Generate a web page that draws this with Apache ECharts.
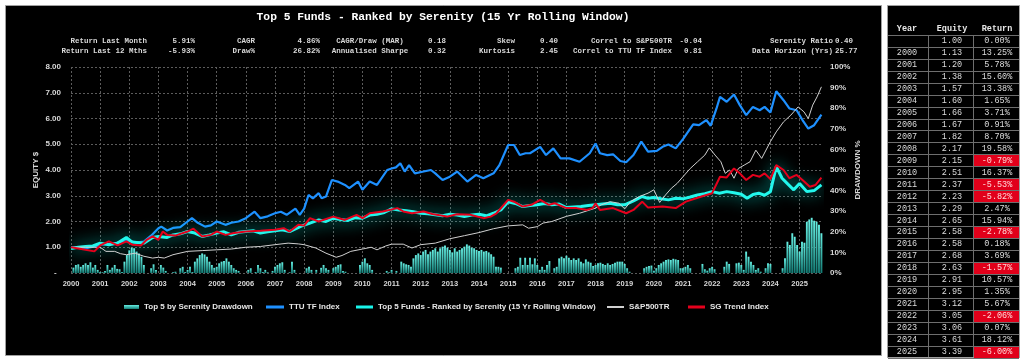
<!DOCTYPE html>
<html><head><meta charset="utf-8">
<script src="https://cdn.jsdelivr.net/npm/echarts@6/dist/echarts.min.js"></script>
<style>html,body{margin:0;padding:0;background:#fff;}#c{width:1024px;height:361px;}</style>
</head><body><div id="c"></div><script>
// ---------------- DATA ----------------
const chartTitle = 'Top 5 Funds - Ranked by Serenity (15 Yr Rolling Window)';
const xYears = [2000,2001,2002,2003,2004,2005,2006,2007,2008,2009,2010,2011,2012,2013,2014,2015,2016,2017,2018,2019,2020,2021,2022,2023,2024,2025];
const xStart = 2000, xEnd = 2025.77;

const statsLabels1 = ['Return Last Month','CAGR','CAGR/Draw (MAR)','Skew','Correl to S&P500TR','Serenity Ratio'];
const statsValues1 = ['5.91%','4.86%','0.18','0.40','-0.04','0.40'];
const statsLabels2 = ['Return Last 12 Mths','Draw%','Annualised Sharpe','Kurtosis','Correl to TTU TF Index','Data Horizon (Yrs)'];
const statsValues2 = ['-5.93%','26.82%','0.32','2.45','0.81','25.77'];

// monthly drawdown %, starting Jan 2000
const drawdownMonthly = [
 0,2.6,3.9,4.2,3.0,3.9,4.7,3.9,5.2,2.6,3.9,1.5,        // 2000
 0.5,0.3,1.0,3.9,1.5,2.6,3.9,2.0,1.8,0.5,5.5,8.7,      // 2001
 11.0,12.3,12.0,10.4,9.5,7.9,3.9,0,0,2.3,4.2,1.5,      // 2002
 0,3.9,2.6,1.0,0,0,0.4,0.6,0,2.3,3.0,0.5,              // 2003
 1.5,3.0,0.5,5.5,7.1,8.7,9.5,9.0,7.9,5.5,3.9,2.5,      // 2004
 3.0,4.7,5.5,5.8,7.1,5.5,3.9,2.3,1.5,1.0,0,0,          // 2005
 0,1.5,2.3,0,0.5,3.9,2.3,0.5,1.5,0.3,0,1.0,            // 2006
 3.0,3.9,4.7,5.2,1.5,0,0.3,5.5,1.5,0,0,0,              // 2007
 0,2.3,3.0,1.5,0,1.5,0,2.5,3.9,2.3,1.5,0,              // 2008
 2.3,3.0,3.9,4.2,1.0,0.6,0,0,0,0,0,3.9,                // 2009
 5.5,7.1,4.7,3.9,1.5,0,0,0,0,0,1.0,0.3,                // 2010
 1.5,0,1.0,0,5.5,4.7,4.2,3.9,3.0,7.1,8.7,9.5,          // 2011
 8.7,10.4,11.2,9.1,10.4,11.2,12.0,10.4,12.0,12.8,13.3,12.3, // 2012
 11.2,10.0,12.0,10.4,11.2,12.0,12.8,13.9,13.3,12.3,12.0,11.2, // 2013
 10.7,11.2,10.4,10.7,10.0,9.1,7.9,3.0,3.0,2.6,0,0,     // 2014
 0,0,0,2.3,3.0,7.4,3.9,7.4,3.9,7.4,4.2,7.1,            // 2015
 3.9,1.5,3.0,1.5,3.9,5.8,0,2.3,3.0,7.1,7.9,7.1,        // 2016
 8.4,7.4,6.3,7.1,6.3,7.1,5.5,4.7,6.6,5.5,5.0,3.4,      // 2017
 3.9,4.7,5.0,4.4,3.9,4.7,3.9,4.4,5.0,5.5,5.5,5.5,      // 2018
 4.4,2.3,0.6,0,0,0,0,0,2.3,3.0,3.4,3.6,                // 2019
 1.1,2.3,3.9,4.7,5.5,6.3,6.6,6.3,6.9,6.6,6.3,2.3,      // 2020
 2.3,3.0,3.9,2.3,0,0,0,0,4.4,1.8,1.1,2.3,              // 2021
 3.0,1.8,0,0,0,3.0,5.5,4.4,0,0,4.7,5.0,                // 2022
 3.9,1.5,10.4,7.9,5.5,3.9,1.5,2.3,0.6,0,2.3,4.7,       // 2023
 4.4,0,0,0,0,2.3,7.1,15.2,13.6,19.3,17.6,13.6,         // 2024
 10.4,15.2,14.7,24.9,26.0,26.8,25.4,24.9,23.4,19.3     // 2025
];

const ttuTF = [[2000,1.00],[2000.25,0.97],[2000.5,0.95],[2000.75,1.02],[2001,1.10],[2001.25,1.12],[2001.5,1.15],[2001.75,1.22],[2002,1.25],[2002.25,1.18],[2002.5,1.22],[2002.75,1.45],[2003,1.74],[2003.1,1.80],[2003.3,1.65],[2003.5,1.75],[2003.75,1.78],[2004,2.00],[2004.15,2.13],[2004.35,1.95],[2004.6,1.80],[2004.8,1.85],[2005,2.00],[2005.3,1.87],[2005.5,1.95],[2005.75,2.00],[2006,2.13],[2006.3,2.38],[2006.5,2.13],[2006.75,2.20],[2007,2.32],[2007.2,2.38],[2007.4,2.26],[2007.7,2.50],[2007.85,2.26],[2008,2.50],[2008.15,3.03],[2008.3,2.90],[2008.5,3.10],[2008.6,2.90],[2008.75,2.97],[2008.95,3.61],[2009.15,3.55],[2009.4,3.42],[2009.55,3.30],[2009.85,3.55],[2010,3.23],[2010.25,3.55],[2010.5,3.42],[2010.85,4.00],[2011,4.06],[2011.15,4.10],[2011.3,4.26],[2011.45,3.94],[2011.6,4.19],[2011.8,3.87],[2012.1,3.94],[2012.35,4.00],[2012.5,3.87],[2012.75,3.61],[2013,3.74],[2013.25,3.94],[2013.6,3.55],[2013.9,3.81],[2014.15,3.68],[2014.5,3.87],[2014.7,4.19],[2015,4.97],[2015.2,4.97],[2015.4,4.58],[2015.6,4.65],[2015.75,4.65],[2016.1,4.90],[2016.3,4.58],[2016.55,4.84],[2016.8,4.45],[2017.1,4.45],[2017.45,4.32],[2017.8,4.65],[2018,5.03],[2018.15,4.65],[2018.4,4.58],[2018.6,4.61],[2018.85,4.35],[2019.05,4.30],[2019.3,4.58],[2019.57,5.10],[2019.8,4.71],[2020.1,4.74],[2020.3,4.90],[2020.5,4.99],[2020.75,4.84],[2021,5.20],[2021.35,5.77],[2021.55,5.74],[2021.8,5.94],[2021.95,5.72],[2022.15,6.39],[2022.27,6.84],[2022.5,6.65],[2022.75,6.93],[2022.95,6.52],[2023.17,6.13],[2023.4,6.45],[2023.63,6.32],[2023.8,6.45],[2024,6.23],[2024.2,7.06],[2024.45,6.71],[2024.65,6.39],[2024.9,6.32],[2025.1,5.94],[2025.3,5.61],[2025.5,5.74],[2025.75,6.15]];

const top5Serenity = [[2000,0.95],[2000.25,1.00],[2000.5,1.03],[2000.75,1.05],[2001,1.16],[2001.3,1.10],[2001.6,1.16],[2001.9,1.38],[2002.1,1.20],[2002.5,1.16],[2002.8,1.38],[2003,1.42],[2003.3,1.38],[2003.5,1.48],[2003.75,1.52],[2004,1.61],[2004.25,1.55],[2004.5,1.42],[2004.75,1.48],[2005,1.55],[2005.25,1.60],[2005.5,1.48],[2005.75,1.58],[2006,1.61],[2006.25,1.64],[2006.5,1.55],[2006.75,1.60],[2007,1.64],[2007.25,1.68],[2007.5,1.61],[2007.9,1.82],[2008.2,1.94],[2008.5,2.06],[2008.75,2.00],[2009,2.13],[2009.25,2.08],[2009.5,2.04],[2009.75,2.15],[2010,2.13],[2010.25,2.25],[2010.5,2.28],[2010.75,2.35],[2011,2.49],[2011.25,2.45],[2011.5,2.42],[2011.75,2.38],[2012,2.32],[2012.25,2.30],[2012.5,2.26],[2012.75,2.22],[2013,2.28],[2013.25,2.25],[2013.5,2.19],[2013.75,2.25],[2014,2.28],[2014.25,2.22],[2014.5,2.32],[2014.75,2.45],[2015,2.77],[2015.25,2.70],[2015.5,2.58],[2015.75,2.62],[2016,2.65],[2016.25,2.70],[2016.5,2.65],[2016.75,2.68],[2017,2.54],[2017.25,2.56],[2017.5,2.58],[2017.75,2.62],[2018,2.65],[2018.25,2.68],[2018.5,2.71],[2018.75,2.65],[2019,2.65],[2019.3,2.80],[2019.6,2.97],[2019.8,2.90],[2020,2.93],[2020.25,2.88],[2020.5,2.84],[2020.75,2.90],[2021,2.88],[2021.25,2.95],[2021.5,3.03],[2021.75,3.08],[2022,3.16],[2022.25,3.10],[2022.5,3.16],[2022.75,3.12],[2023,3.06],[2023.2,2.90],[2023.4,3.05],[2023.6,3.10],[2023.8,3.02],[2024,3.16],[2024.2,4.13],[2024.4,3.68],[2024.6,3.45],[2024.8,3.23],[2025,3.48],[2025.25,3.16],[2025.5,3.20],[2025.75,3.42]];

const sp500TR = [[2000,1.00],[2000.5,1.00],[2001,1.00],[2001.2,0.84],[2001.5,0.84],[2001.7,0.75],[2001.9,0.71],[2002.2,0.77],[2002.5,0.65],[2002.8,0.58],[2003,0.61],[2003.2,0.58],[2003.5,0.71],[2004,0.84],[2004.5,0.87],[2005,0.90],[2005.5,0.93],[2006,1.00],[2006.5,1.03],[2007,1.10],[2007.45,1.16],[2007.8,1.13],[2008,1.10],[2008.4,0.97],[2008.75,0.77],[2009.1,0.61],[2009.3,0.68],[2009.6,0.84],[2010,0.93],[2010.3,1.00],[2010.5,0.90],[2010.8,1.05],[2011,1.12],[2011.4,1.12],[2011.7,0.97],[2012,1.10],[2012.5,1.16],[2013,1.33],[2013.5,1.45],[2014,1.57],[2014.5,1.72],[2015,1.83],[2015.5,1.87],[2015.7,1.74],[2016,1.80],[2016.2,1.94],[2016.5,2.00],[2017,2.20],[2017.45,2.32],[2018,2.52],[2018.2,2.65],[2018.5,2.77],[2018.8,2.71],[2019,2.49],[2019.2,2.77],[2019.5,2.97],[2019.8,3.10],[2020,3.23],[2020.2,2.74],[2020.4,3.03],[2020.6,3.29],[2020.8,3.48],[2021,3.74],[2021.25,4.06],[2021.5,4.32],[2021.75,4.58],[2021.9,4.86],[2022.1,4.58],[2022.3,4.32],[2022.45,3.87],[2022.6,4.00],[2022.75,3.68],[2022.9,4.06],[2023.1,4.19],[2023.3,4.32],[2023.5,4.77],[2023.7,4.45],[2024,5.10],[2024.2,5.48],[2024.45,5.87],[2024.7,6.13],[2024.95,6.45],[2025.15,6.26],[2025.3,6.00],[2025.45,6.52],[2025.6,6.84],[2025.75,7.23]];

const sgTrend = [[2000,1.00],[2000.5,0.90],[2000.8,0.84],[2001,1.07],[2001.3,1.23],[2001.6,1.07],[2001.9,1.23],[2002.1,1.10],[2002.4,1.07],[2002.6,1.29],[2002.8,1.42],[2003,1.29],[2003.15,1.61],[2003.3,1.48],[2003.6,1.46],[2004,1.61],[2004.2,1.72],[2004.5,1.42],[2004.8,1.48],[2005,1.61],[2005.3,1.48],[2005.6,1.55],[2006,1.61],[2006.5,1.64],[2007,1.68],[2007.3,1.74],[2007.5,1.61],[2007.8,1.87],[2008,1.84],[2008.2,2.13],[2008.5,2.00],[2009,2.19],[2009.4,2.06],[2009.8,2.26],[2010,2.13],[2010.25,2.32],[2010.7,2.39],[2011.2,2.52],[2011.4,2.39],[2011.7,2.32],[2012.1,2.39],[2012.4,2.29],[2012.9,2.19],[2013.25,2.28],[2013.7,2.26],[2014.15,2.13],[2014.4,2.19],[2014.6,2.32],[2015,2.84],[2015.2,2.77],[2015.5,2.58],[2015.8,2.65],[2016.1,2.84],[2016.4,2.65],[2016.6,2.71],[2017,2.52],[2017.35,2.52],[2017.7,2.45],[2017.9,2.52],[2018,2.71],[2018.15,2.45],[2018.6,2.52],[2019.05,2.32],[2019.3,2.45],[2019.6,2.77],[2019.8,2.54],[2020.3,2.58],[2020.75,2.52],[2021.1,2.77],[2021.45,2.90],[2021.8,3.03],[2022,3.10],[2022.27,3.74],[2022.5,3.71],[2022.75,4.06],[2022.95,3.87],[2023.17,3.61],[2023.4,3.81],[2023.63,3.74],[2023.8,3.87],[2024,3.65],[2024.2,4.19],[2024.45,4.00],[2024.65,3.68],[2024.9,3.81],[2025.1,3.61],[2025.35,3.35],[2025.55,3.42],[2025.75,3.70]];

const tableYears  = ['', '2000','2001','2002','2003','2004','2005','2006','2007','2008','2009','2010','2011','2012','2013','2014','2015','2016','2017','2018','2019','2020','2021','2022','2023','2024','2025'];
const tableEquity = ['1.00','1.13','1.20','1.38','1.57','1.60','1.66','1.67','1.82','2.17','2.15','2.51','2.37','2.23','2.29','2.65','2.58','2.58','2.68','2.63','2.91','2.95','3.12','3.05','3.06','3.61','3.39'];
const tableReturn = ['0.00%','13.25%','5.78%','15.60%','13.38%','1.65%','3.71%','0.91%','8.70%','19.58%','-0.79%','16.37%','-5.53%','-5.82%','2.47%','15.94%','-2.78%','0.18%','3.69%','-1.57%','10.57%','1.35%','5.67%','-2.06%','0.07%','18.12%','-6.00%'];

// ---------------- CHART ----------------
const chart = echarts.init(document.getElementById('c'), null, {renderer:'canvas'});
const mono = '"Liberation Mono", "Courier New", monospace';
const sans = '"Liberation Sans", Arial, sans-serif';
const g = [];
// panels
g.push({type:'rect', z:-10, shape:{x:5.5,y:5.5,width:876,height:350}, style:{fill:'#000', stroke:'#a0a0a0', lineWidth:1}});
g.push({type:'rect', z:-10, shape:{x:887.5,y:5.5,width:132,height:352}, style:{fill:'#000', stroke:'#a0a0a0', lineWidth:1}});
// title
g.push({type:'text', z:10, x:443, y:17, style:{text:chartTitle, fill:'#ffffff', font:'bold 11.3px '+mono, align:'center', verticalAlign:'middle'}});
// stats
const labAnch = [[147,'right'],[255,'right'],[370,'center'],[515,'right'],[672,'right'],[833,'right']];
const valAnch = [[195,'right'],[320,'right'],[428,'left'],[540,'left'],[702,'right'],[835,'left']];
[[statsLabels1,statsValues1,41],[statsLabels2,statsValues2,51]].forEach(([labs,vals,yy])=>{
  labs.forEach((t,i)=>g.push({type:'text', z:10, x:labAnch[i][0], y:yy, style:{text:t, fill:'#d8d8d8', font:'bold 7.5px '+mono, align:labAnch[i][1], verticalAlign:'middle'}}));
  vals.forEach((t,i)=>g.push({type:'text', z:10, x:valAnch[i][0], y:yy, style:{text:t, fill:'#d8d8d8', font:'bold 7.5px '+mono, align:valAnch[i][1], verticalAlign:'middle'}}));
});
// table
const rowY0 = 40.7, rowH = 11.97;
const colX = [907, 952, 997];
['Year','Equity','Return'].forEach((t,i)=>g.push({type:'text', z:10, x:colX[i], y:29, style:{text:t, fill:'#e8e8e8', font:'bold 8.5px '+mono, align:'center', verticalAlign:'middle'}}));
for (let k=0;k<=tableYears.length;k++){
  const yy = Math.round(rowY0 - rowH/2 + k*rowH) + 0.5;
  g.push({type:'line', z:5, shape:{x1:888, y1:yy, x2:1019, y2:yy}, style:{stroke:'#6e6e6e', lineWidth:1}});
}
[928.5, 973.5].forEach(xx=>g.push({type:'line', z:5, shape:{x1:xx, y1:Math.round(rowY0-rowH/2)+0.5, x2:xx, y2:357}, style:{stroke:'#6e6e6e', lineWidth:1}}));
tableYears.forEach((yr,k)=>{
  const yy = rowY0 + k*rowH;
  if (tableReturn[k].startsWith('-')) {
    g.push({type:'rect', z:6, shape:{x:974, y:Math.round(yy-rowH/2)+1, width:45, height:Math.round(rowH)-1}, style:{fill:'#e1001a'}});
  }
  [yr, tableEquity[k], tableReturn[k]].forEach((t,i)=>g.push({type:'text', z:10, x:colX[i], y:yy, style:{text:t, fill: (i===2 && t.startsWith('-'))?'#ffd9d9':'#dcdcdc', font:'8.5px '+mono, align:'center', verticalAlign:'middle'}}));
});

const gridColor = '#5c5c5c';
const labelColor = '#d8d8d8';
const legendText = {color:'#e6e6e6', fontWeight:'bold', fontSize:8, fontFamily:sans};
const barGrad = new echarts.graphic.LinearGradient(0,0,0,1,[{offset:0,color:'#66efe3'},{offset:1,color:'#137a73'}]);
const lg = (name, left, w, h) => ({data:[name], left:left, top:303, padding:0, icon:'rect', itemWidth:w, itemHeight:h, textStyle:legendText, selectedMode:false});

const option = {
  backgroundColor:'#ffffff',
  animation:false,
  textStyle:{fontFamily:sans},
  graphic: g,
  grid:{left:71, right:202, top:67, bottom:88},
  legend:[
    lg('Top 5 by Serenity Drawdown', 124, 15, 4),
    lg('TTU TF Index', 266, 18, 3),
    lg('Top 5 Funds - Ranked by Serenity (15 Yr Rolling Window)', 356, 17, 3),
    lg('S&P500TR', 607, 17, 2),
    lg('SG Trend Index', 688, 17, 3)
  ],
  xAxis:{type:'value', min:xStart, max:xEnd, interval:1,
    axisLine:{show:false}, axisTick:{show:false, customValues:xYears},
    splitLine:{show:true, lineStyle:{color:gridColor, type:[2,2], width:1}},
    axisLabel:{color:labelColor, fontWeight:'bold', fontSize:7.5, margin:7, customValues:xYears, hideOverlap:false,
      formatter:v=> String(v)}
  },
  yAxis:[
    {type:'value', min:0, max:8, interval:1, name:'EQUITY $', nameLocation:'middle', nameGap:31, nameRotate:90, nameMoveOverlap:false,
     nameTextStyle:{color:labelColor, fontWeight:'bold', fontSize:8},
     axisLine:{show:false}, axisTick:{show:false},
     splitLine:{show:true, lineStyle:{color:gridColor, type:[2,2], width:1}},
     axisLabel:{color:labelColor, fontWeight:'bold', fontSize:8, margin:10, formatter:v=> v===0 ? '-  ' : v.toFixed(2)}},
    {type:'value', min:0, max:100, interval:10, position:'right', name:'DRAWDOWN %', nameLocation:'middle', nameGap:32, nameRotate:90, nameMoveOverlap:false,
     nameTextStyle:{color:labelColor, fontWeight:'bold', fontSize:8},
     axisLine:{show:false}, axisTick:{show:false}, splitLine:{show:false},
     axisLabel:{color:labelColor, fontWeight:'bold', fontSize:8, margin:8, formatter:'{value}%'}}
  ],
  series:[
    {name:'Top 5 by Serenity Drawdown', type:'bar', yAxisIndex:1, barWidth:1.9,
     data: drawdownMonthly.map((v,i)=>[xStart + i/12, v]),
     itemStyle:{color:barGrad}},
    {name:'TTU TF Index', type:'line', data:ttuTF, showSymbol:false, symbol:'none', color:'#1e90ff',
     lineStyle:{width:2.2, color:'#1e90ff'}},
    {name:'Top 5 Funds - Ranked by Serenity (15 Yr Rolling Window)', type:'line', data:top5Serenity, showSymbol:false, symbol:'none', color:'#19f5ea',
     lineStyle:{width:3, color:'#22f7ec', shadowColor:'rgba(0,240,225,1)', shadowBlur:16}},
    {name:'S&P500TR', type:'line', data:sp500TR, showSymbol:false, symbol:'none', color:'#d0d0d0',
     lineStyle:{width:1, color:'#d0d0d0'}},
    {name:'SG Trend Index', type:'line', data:sgTrend, showSymbol:false, symbol:'none', color:'#e5001c',
     lineStyle:{width:2, color:'#e5001c'}}
  ]
};
chart.setOption(option);
</script></body></html>
